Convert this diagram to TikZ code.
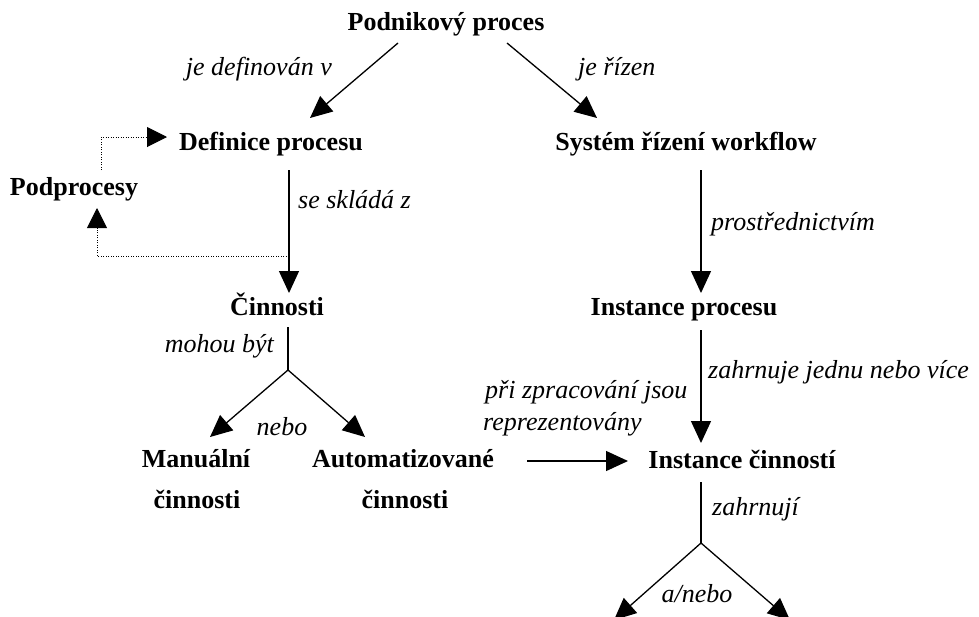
\documentclass[tikz,border=0pt]{standalone}
\usepackage{fontspec}
\setmainfont{Liberation Serif}
\usetikzlibrary{arrows.meta}
\tikzset{
  pojem/.style={font=\fontsize{26}{30}\selectfont\bfseries, inner sep=0pt, anchor=base},
  popis/.style={font=\fontsize{26}{30}\selectfont\itshape, inner sep=0pt, anchor=base west},
  cara/.style={line width=1.3pt},
  sipka/.style={cara, -{Triangle[length=22pt,width=20pt]}},
  tecky/.style={line width=1pt, dash pattern=on 1pt off 1.5pt, -{Triangle[length=20pt,width=20pt]}}
}
\begin{document}
\begin{tikzpicture}[x=1pt,y=-1pt]
    \useasboundingbox (0,0) rectangle (979,616);
    \clip (0,0) rectangle (979,616);

    % Concepts
    \node[pojem] (pp) at (446,30) {Podnikový proces};
    \node[pojem] (def) at (271,150) {Definice procesu};
    \node[pojem] (sys) at (686,150) {Systém řízení workflow};
    \node[pojem] (pod) at (74,195) {Podprocesy};
    \node[pojem] (cin) at (277,315) {Činnosti};
    \node[pojem] (ip) at (684,315) {Instance procesu};
    \node[pojem] (man) at (196,467) {Manuální};
    \node[pojem] (man2) at (197,508) {činnosti};
    \node[pojem] (aut) at (403,467) {Automatizované};
    \node[pojem] (aut2) at (405,508) {činnosti};
    \node[pojem] (ic) at (742,468) {Instance činností};

    % Relation labels
    \node[popis, anchor=base east] (l1) at (332,75) {je definován v};
    \node[popis] (l2) at (578,75) {je řízen};
    \node[popis] (l3) at (298,208) {se skládá z};
    \node[popis] (l4) at (711,230) {prostřednictvím};
    \node[popis, anchor=base east] (l5) at (274,352) {mohou být};
    \node[popis, anchor=base] (l6) at (282,435) {nebo};
    \node[popis] (l7) at (708,378) {zahrnuje jednu nebo více};
    \node[popis] (l8) at (485,398) {při zpracování jsou};
    \node[popis] (l9) at (483,430) {reprezentovány};
    \node[popis] (l10) at (712,515) {zahrnují};
    \node[popis, anchor=base] (l11) at (697,602) {a/nebo};

    % Arrow ends
    \coordinate (pp-l) at (398,43);
    \coordinate (pp-r) at (507,43);
    \coordinate (def-in) at (310,118);
    \coordinate (sys-in) at (597,118);
    \coordinate (def-out) at (289,170);
    \coordinate (cin-in) at (289,293);
    \coordinate (sys-out) at (701,170);
    \coordinate (ip-in) at (701,293);
    \coordinate (cin-out) at (288,327);
    \coordinate (j1) at (288,370);
    \coordinate (man-in) at (210,437);
    \coordinate (aut-in) at (365,437);
    \coordinate (ip-out) at (701,330);
    \coordinate (ic-in) at (701,443);
    \coordinate (aut-out) at (527,461);
    \coordinate (ic-w) at (628,461);
    \coordinate (ic-out) at (701,482);
    \coordinate (j2) at (701,543);
    \coordinate (dole-l) at (614,620);
    \coordinate (dole-r) at (790,620);
    \coordinate (pod-n) at (101,170);
    \coordinate (def-w) at (167,137);
    \coordinate (rozd) at (289,256);
    \coordinate (pod-s) at (97,208);

    % Connectors
    \draw[sipka] (pp-l) -- (def-in);
    \draw[sipka] (pp-r) -- (sys-in);
    \draw[sipka] (def-out) -- (cin-in);
    \draw[sipka] (sys-out) -- (ip-in);
    \draw[cara] (cin-out) -- (j1);
    \draw[sipka] (j1) -- (man-in);
    \draw[sipka] (j1) -- (aut-in);
    \draw[sipka] (ip-out) -- (ic-in);
    \draw[sipka] (aut-out) -- (ic-w);
    \draw[cara] (ic-out) -- (j2);
    \draw[sipka] (j2) -- (dole-l);
    \draw[sipka] (j2) -- (dole-r);

    % Subprocesses (dotted)
    \draw[tecky] (pod-n) |- (def-w);
    \draw[tecky] (rozd) -| (pod-s);
\end{tikzpicture}
\end{document}
